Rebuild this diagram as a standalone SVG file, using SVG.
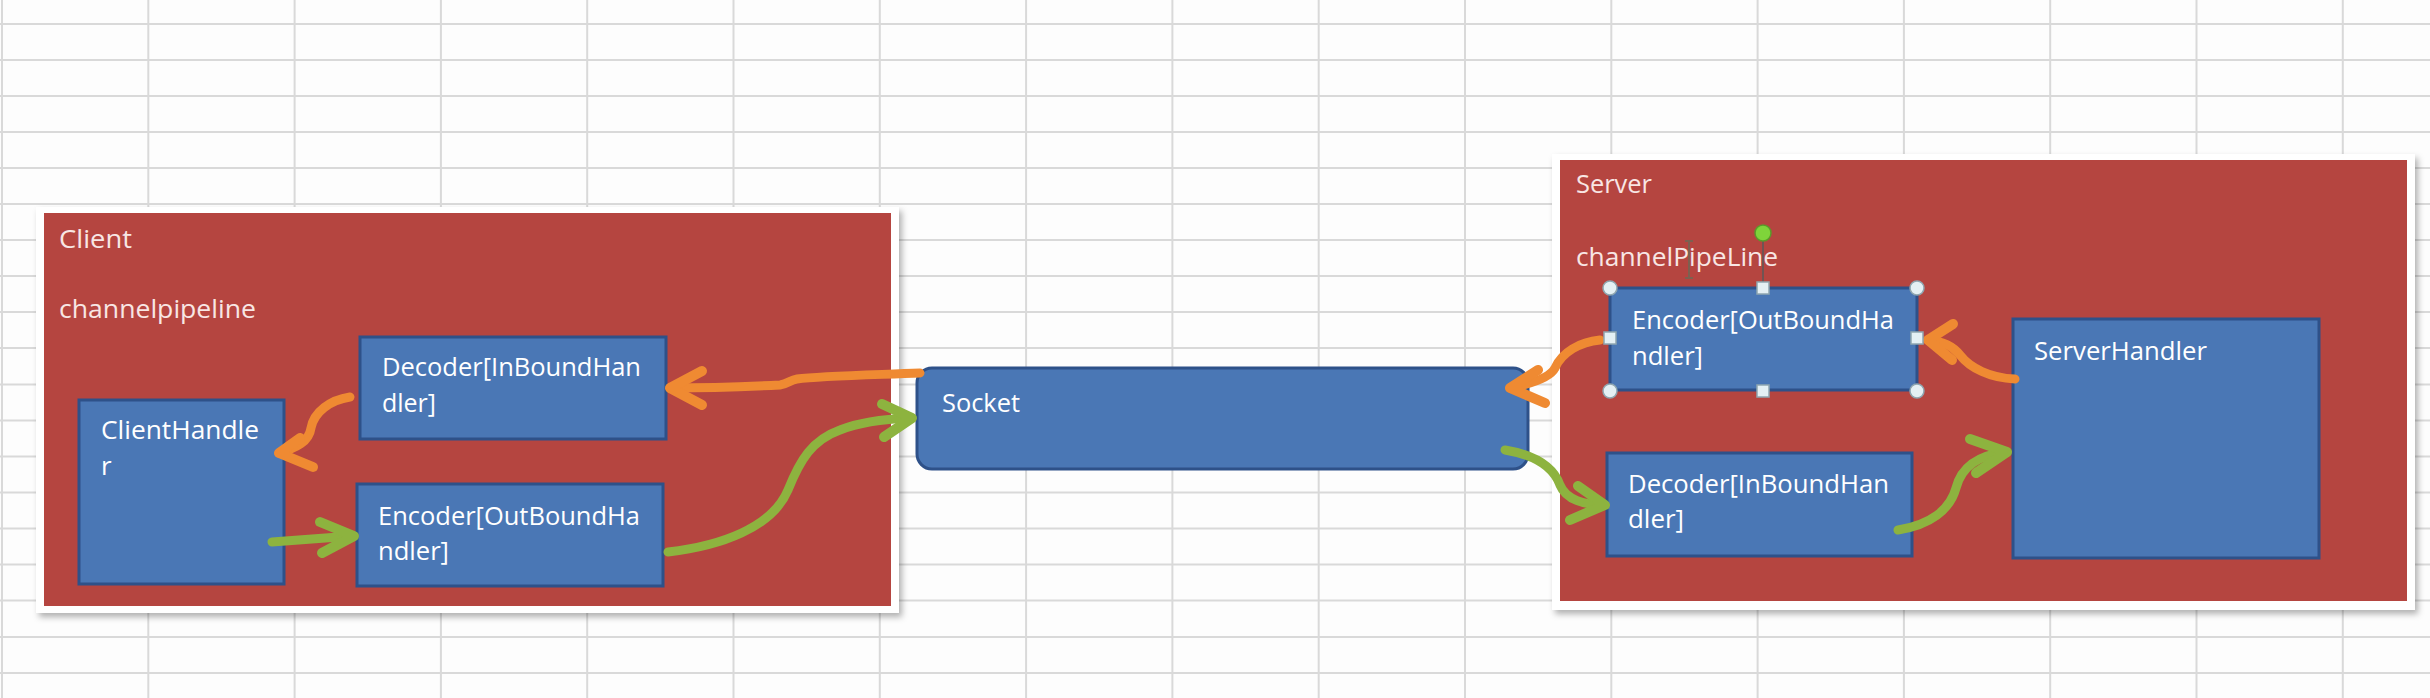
<svg xmlns="http://www.w3.org/2000/svg" width="2430" height="698" viewBox="0 0 2430 698">
<defs>
<filter id="sh" x="-5%" y="-5%" width="110%" height="115%"><feDropShadow dx="3" dy="4" stdDeviation="3" flood-color="#000" flood-opacity="0.3"/></filter>
<style>
.grid{stroke:#d9d9d9;stroke-width:2;fill:none}
.frame{fill:#ffffff}
.cont{fill:#b54540}
.box{fill:#4a77b5;stroke:#2e5189;stroke-width:3}
.t{font-family:"Open Sans","Liberation Sans",sans-serif;font-size:26px;fill:#ffffff}
.tc{font-family:"Open Sans","Liberation Sans",sans-serif;font-size:26px;fill:#f8e6e4}
.or{stroke:#ef8a32;stroke-width:9;fill:none;stroke-linecap:round;stroke-linejoin:round}
.gr{stroke:#8db33f;stroke-width:9;fill:none;stroke-linecap:round;stroke-linejoin:round}
.ah{stroke-width:10}
.hc{fill:#e4f0f4;stroke:#8fa6b0;stroke-width:1.5}
</style>
</defs>
<rect width="2430" height="698" fill="#fdfdfd"/>
<g id="grid">
<path class="grid" d="M2,0V698M148.3,0V698M294.6,0V698M440.9,0V698M587.2,0V698M733.5,0V698M879.8,0V698M1026.1,0V698M1172.4,0V698M1318.7,0V698M1465,0V698M1611.3,0V698M1757.6,0V698M1903.9,0V698M2050.2,0V698M2196.5,0V698M2342.8,0V698"/>
<path class="grid" d="M0,24H2430M0,60H2430M0,96H2430M0,132H2430M0,168H2430M0,204H2430M0,240H2430M0,276H2430M0,312H2430M0,348H2430M0,384.5H2430M0,420.5H2430M0,456.5H2430M0,492.5H2430M0,528.5H2430M0,564.5H2430M0,600.5H2430M0,637H2430M0,673H2430"/>
</g>
<g id="client">
<rect class="frame" x="36" y="207" width="863" height="406" filter="url(#sh)"/>
<rect class="cont" x="44" y="213" width="847" height="393"/>
<text class="tc" x="59" y="248" textLength="73" lengthAdjust="spacingAndGlyphs">Client</text>
<text class="tc" x="59" y="318" textLength="197" lengthAdjust="spacingAndGlyphs">channelpipeline</text>
</g>
<g id="server">
<rect class="frame" x="1552" y="154" width="863" height="456" filter="url(#sh)"/>
<rect class="cont" x="1560" y="160" width="847" height="441"/>
<text class="tc" x="1576" y="193" textLength="76" lengthAdjust="spacingAndGlyphs">Server</text>
<text class="tc" x="1576" y="266" textLength="202" lengthAdjust="spacingAndGlyphs">channelPipeLine</text>
</g>
<g id="client-decoder">
<rect class="box" x="360" y="337" width="306" height="102"/>
<text class="t" x="382" y="376" textLength="259" lengthAdjust="spacingAndGlyphs">Decoder[InBoundHan</text>
<text class="t" x="382" y="412" textLength="54" lengthAdjust="spacingAndGlyphs">dler]</text>
</g>
<g id="client-handler">
<rect class="box" x="79" y="400" width="205" height="184"/>
<text class="t" x="101" y="439" textLength="158" lengthAdjust="spacingAndGlyphs">ClientHandle</text>
<text class="t" x="101" y="475">r</text>
</g>
<g id="client-encoder">
<rect class="box" x="357" y="484" width="306" height="102"/>
<text class="t" x="378" y="525" textLength="262" lengthAdjust="spacingAndGlyphs">Encoder[OutBoundHa</text>
<text class="t" x="378" y="560" textLength="71" lengthAdjust="spacingAndGlyphs">ndler]</text>
</g>
<g id="socket">
<rect class="box" x="917" y="368" width="611" height="101" rx="15" ry="15"/>
<text class="t" x="942" y="412" textLength="78" lengthAdjust="spacingAndGlyphs">Socket</text>
</g>
<g id="server-encoder">
<rect class="box" x="1610" y="288" width="307" height="102"/>
<text class="t" x="1632" y="329" textLength="262" lengthAdjust="spacingAndGlyphs">Encoder[OutBoundHa</text>
<text class="t" x="1632" y="365" textLength="71" lengthAdjust="spacingAndGlyphs">ndler]</text>
</g>
<g id="server-handler">
<rect class="box" x="2013" y="319" width="306" height="239"/>
<text class="t" x="2034" y="360" textLength="173" lengthAdjust="spacingAndGlyphs">ServerHandler</text>
</g>
<g id="server-decoder">
<rect class="box" x="1607" y="453" width="305" height="103"/>
<text class="t" x="1628" y="493" textLength="261" lengthAdjust="spacingAndGlyphs">Decoder[InBoundHan</text>
<text class="t" x="1628" y="528" textLength="56" lengthAdjust="spacingAndGlyphs">dler]</text>
</g>
<g id="connectors">
<path class="or" d="M920,373 C870,375 820,376 797,379 C790,380 788,384 780,385 C740,387 700,388 670,388"/>
<path class="or ah" d="M702,371 L670,388 L702,405"/>
<path class="or" d="M350,397 C330,400 314,412 311,428 C309,442 296,448 279,453"/>
<path class="or ah" d="M300,438 L279,453 L313,467"/>
<path class="gr" d="M272,542 L352,536"/>
<path class="gr ah" d="M320,522 L354,536 L322,553"/>
<path class="gr" d="M668,552 C720,546 772,528 788,490 C800,460 812,440 840,430 C860,422 885,419 910,418"/>
<path class="gr ah" d="M882,404 L912,418 L884,437"/>
<path class="or" d="M2015,379 C1990,378 1970,368 1960,355 C1952,345 1942,341 1928,340"/>
<path class="or ah" d="M1953,324 L1928,340 L1952,360"/>
<path class="or" d="M1600,340 C1580,342 1562,352 1555,368 C1550,378 1530,384 1510,388"/>
<path class="or ah" d="M1538,370 L1510,388 L1545,403"/>
<path class="gr" d="M1505,450 C1535,455 1553,466 1560,485 C1566,500 1585,505 1604,505"/>
<path class="gr ah" d="M1578,486 L1605,505 L1570,520"/>
<path class="gr" d="M1898,530 C1930,525 1950,510 1956,488 C1962,465 1980,455 2006,452"/>
<path class="gr ah" d="M1970,439 L2007,452 L1976,473"/>
</g>
<g id="selection">
<line x1="1763" y1="240" x2="1763" y2="283" stroke="#5a5a5a" stroke-width="1.5"/>
<circle cx="1763" cy="233" r="8" fill="#7fd43a" stroke="#5a9a2a" stroke-width="1.5"/>
<circle class="hc" cx="1610" cy="288" r="7"/>
<circle class="hc" cx="1917" cy="288" r="7"/>
<circle class="hc" cx="1610" cy="391" r="7"/>
<circle class="hc" cx="1917" cy="391" r="7"/>
<rect class="hc" x="1757" y="282" width="12" height="12"/>
<rect class="hc" x="1757" y="385" width="12" height="12"/>
<rect class="hc" x="1604" y="332" width="12" height="12"/>
<rect class="hc" x="1911" y="332" width="12" height="12"/>
<path d="M1689,242V277M1685,241H1693M1685,278H1693" stroke="#6b6a55" stroke-width="1.5" fill="none"/>
</g>
</svg>
